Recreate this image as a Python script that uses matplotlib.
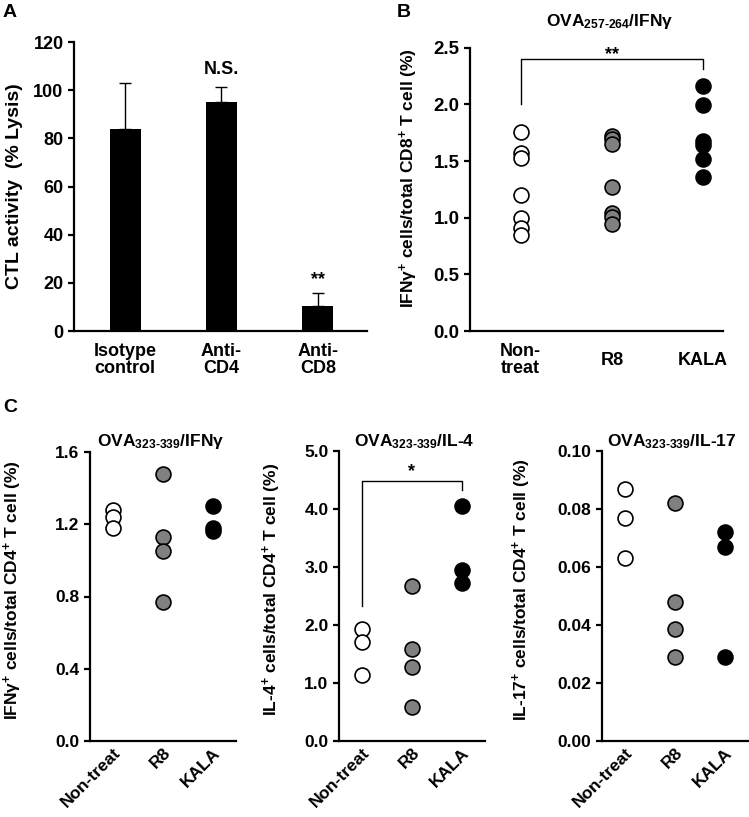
import numpy as np
import matplotlib
matplotlib.use('Agg')
import matplotlib.pyplot as plt

plt.rcParams['font.family'] = ['Liberation Sans', 'DejaVu Sans']
plt.rcParams['font.weight'] = 'bold'
plt.rcParams['axes.labelweight'] = 'bold'
plt.rcParams['mathtext.fontset'] = 'custom'
plt.rcParams['mathtext.rm'] = 'Liberation Sans:bold'
plt.rcParams['mathtext.it'] = 'Liberation Sans:bold'
plt.rcParams['mathtext.bf'] = 'Liberation Sans:bold'

W, H = 749, 817

# panel A
a_groups = ['Isotype\ncontrol', 'Anti-\nCD4', 'Anti-\nCD8']
a_lysis = [83.7, 95.2, 10.4]
a_sd = [19.3, 6.0, 5.2]
a_marks = ['', 'N.S.', '**']

# panel B (OVA257-264 / IFNg, CD8)
groups = ['Non-treat', 'R8', 'KALA']
b_groups = ['Non-\ntreat', 'R8', 'KALA']
b_nontreat = [1.76, 1.57, 1.53, 1.20, 1.00, 0.91, 0.85]
b_r8 = [1.72, 1.69, 1.65, 1.27, 1.04, 1.01, 0.94]
b_kala = [2.16, 1.99, 1.68, 1.64, 1.52, 1.36]

# panel C (OVA323-339, CD4)
c_ifng_nontreat = [1.28, 1.24, 1.18]
c_ifng_r8 = [1.48, 1.13, 1.05, 0.77]
c_ifng_kala = [1.30, 1.18, 1.16]

c_il4_nontreat = [1.93, 1.70, 1.13]
c_il4_r8 = [2.67, 1.59, 1.28, 0.58]
c_il4_kala = [4.06, 2.94, 2.72]

c_il17_nontreat = [0.087, 0.077, 0.063]
c_il17_r8 = [0.082, 0.048, 0.0385, 0.029]
c_il17_kala = [0.072, 0.067, 0.029]

fills = ['white', '#808080', 'black']


def add_ax(fig, l, t, r, b):
    ax = fig.add_axes([l / W, 1 - b / H, (r - l) / W, (b - t) / H])
    for s in ['top', 'right']:
        ax.spines[s].set_visible(False)
    for s in ['left', 'bottom']:
        ax.spines[s].set_linewidth(1.6)
    ax.tick_params(axis='y', direction='out', length=4, width=1.6)
    ax.tick_params(axis='x', length=0)
    return ax


def dots(ax, series):
    for i, (vals, fc) in enumerate(zip(series, fills)):
        ax.scatter(np.full(len(vals), i), vals, s=115, facecolor=fc,
                   edgecolor='black', linewidth=1.2, zorder=3, clip_on=False)


def bracket(ax, y0, ytop, y2, x0=0, x1=2, mark='**', ymark=None, fs=13):
    ax.plot([x0, x0, x1, x1], [y0, ytop, ytop, y2], color='black', lw=1.0,
            clip_on=False)
    ax.text((x0 + x1) / 2, ymark, mark, ha='center', va='center', fontsize=fs)


fig = plt.figure(figsize=(W / 100, H / 100), dpi=100)

# A
ax = add_ax(fig, 74, 42, 367, 331)
x = np.arange(len(a_groups))
ax.bar(x, a_lysis, width=0.32, color='black')
ax.errorbar(x, a_lysis, yerr=[np.zeros(len(a_sd)), a_sd], fmt='none',
            ecolor='black', elinewidth=1.0, capsize=4, capthick=1.0)
ax.set_xlim(-0.53, 2.51)
ax.set_ylim(0, 120)
ax.set_yticks(np.arange(0, 121, 20))
ax.set_xticks(x)
ax.set_xticklabels(a_groups, linespacing=1.05)
ax.tick_params(axis='y', labelsize=13)
ax.tick_params(axis='x', labelsize=13, pad=21)
for t in ax.get_xticklabels():
    t.set_va('center')
ax.set_ylabel('CTL activity  (% Lysis)', fontsize=14)
ax.yaxis.set_label_coords(-0.174, 0.5)
ax.text(1, 108.4, a_marks[1], ha='center', va='center', fontsize=13)
ax.text(2, 21.5, a_marks[2], ha='center', va='center', fontsize=13)

# B
ax = add_ax(fig, 470, 47.7, 723, 331)
dots(ax, [b_nontreat, b_r8, b_kala])
ax.set_xlim(-0.557, 2.22)
ax.set_ylim(0, 2.5)
ax.set_yticks(np.arange(0, 2.51, 0.5))
ax.yaxis.set_major_formatter(matplotlib.ticker.FormatStrFormatter('%.1f'))
ax.set_xticks(range(3))
ax.set_xticklabels(b_groups, linespacing=1.05)
ax.tick_params(axis='y', labelsize=13.5)
ax.tick_params(axis='x', labelsize=13, pad=21)
for t in ax.get_xticklabels():
    t.set_va('center')
ax.set_ylabel('IFNγ$^{+}$ cells/total CD8$^{+}$ T cell (%)', fontsize=12.5)
ax.yaxis.set_label_coords(-0.198, 0.54)
bracket(ax, 2.0, 2.40, 2.31, ymark=2.44)
fig.text(610 / W, 1 - 21.7 / H, r'OVA$_{257\text{-}264}$/IFNγ', ha='center',
         va='center', fontsize=12.5)

# C
c_panels = [
    ((90, 452, 236, 741), [c_ifng_nontreat, c_ifng_r8, c_ifng_kala],
     (0, 1.6), np.arange(0, 1.61, 0.4), '%.1f',
     'IFNγ$^{+}$ cells/total CD4$^{+}$ T cell (%)', -0.45,
     r'OVA$_{323\text{-}339}$/IFNγ', 161),
    ((339, 451, 485, 741), [c_il4_nontreat, c_il4_r8, c_il4_kala],
     (0, 5.0), np.arange(0, 5.01, 1.0), '%.1f',
     'IL-4$^{+}$ cells/total CD4$^{+}$ T cell (%)', -0.384,
     r'OVA$_{323\text{-}339}$/IL-4', 414),
    ((602, 451, 748, 741), [c_il17_nontreat, c_il17_r8, c_il17_kala],
     (0, 0.10), np.arange(0, 0.101, 0.02), '%.2f',
     'IL-17$^{+}$ cells/total CD4$^{+}$ T cell (%)', -0.473,
     r'OVA$_{323\text{-}339}$/IL-17', 672),
]

c_axes = []
for box, series, ylim, yt, fmt, ylab, labx, title, tx in c_panels:
    ax = add_ax(fig, *box)
    dots(ax, series)
    ax.set_xlim(-0.46, 2.47)
    ax.set_ylim(*ylim)
    ax.set_yticks(yt)
    ax.yaxis.set_major_formatter(matplotlib.ticker.FormatStrFormatter(fmt))
    ax.set_xticks(range(3))
    ax.set_xticklabels(groups, rotation=45, ha='right', va='top',
                       rotation_mode='anchor')
    ax.tick_params(axis='y', labelsize=12.5)
    ax.tick_params(axis='x', labelsize=12.5, pad=3)
    ax.set_ylabel(ylab, fontsize=12.5)
    ax.yaxis.set_label_coords(labx, 0.522)
    fig.text(tx / W, 1 - 441.5 / H, title, ha='center', va='center',
             fontsize=12.5)
    c_axes.append(ax)

bracket(c_axes[1], 2.32, 4.48, 4.33, mark='*', ymark=4.64)

fig.text(3 / W, 1 - 4 / H, 'A', ha='left', va='top', fontsize=14)
fig.text(397 / W, 1 - 4 / H, 'B', ha='left', va='top', fontsize=14)
fig.text(3 / W, 1 - 399 / H, 'C', ha='left', va='top', fontsize=14)

fig.savefig('out.png', dpi=100)
